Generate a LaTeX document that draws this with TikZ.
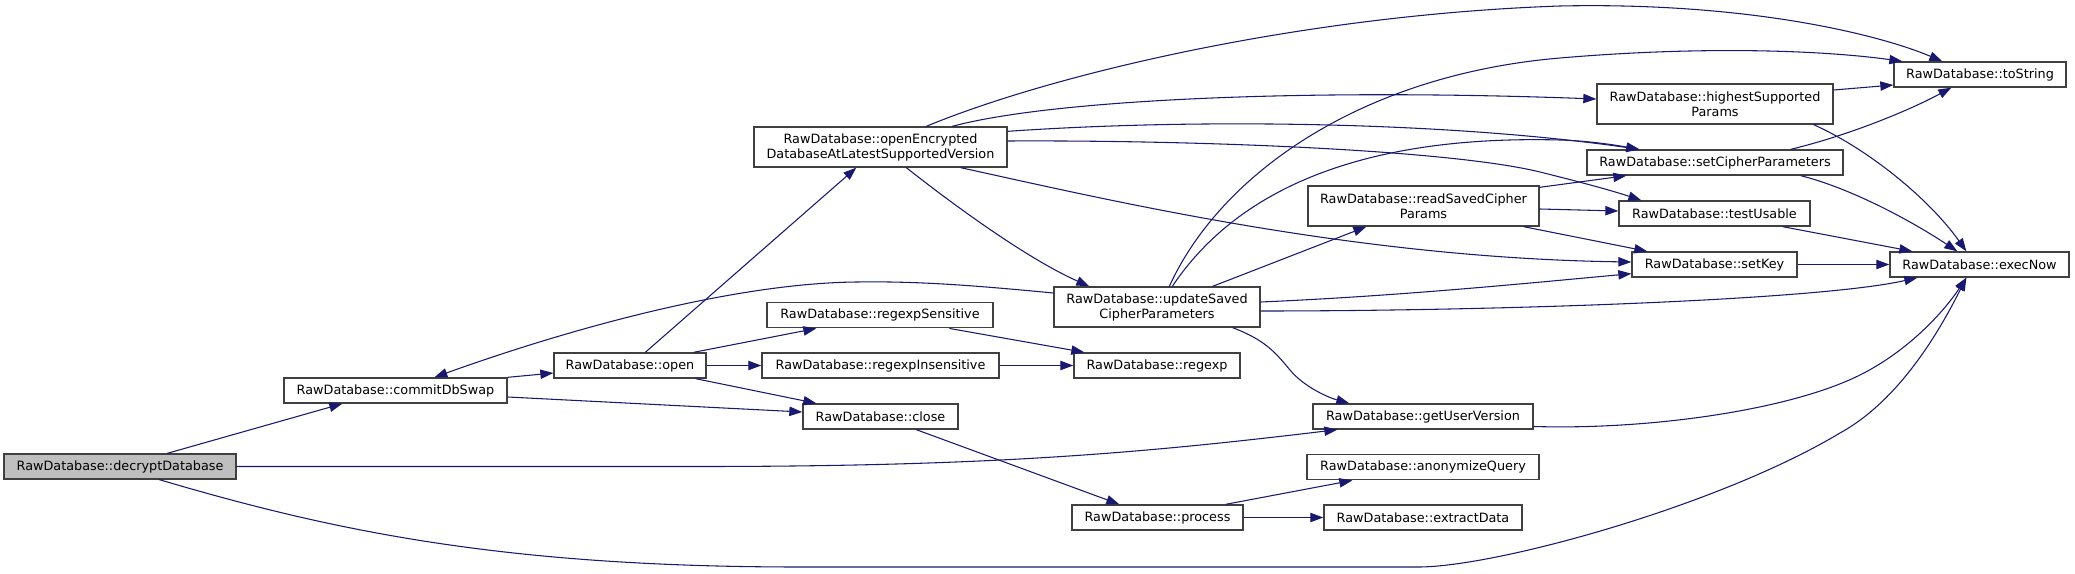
\documentclass[tikz,border=0pt]{standalone}
\usepackage{fontspec}
\setmainfont{DejaVu Sans}
\usetikzlibrary{arrows.meta,calc}
\definecolor{edgec}{HTML}{191970}
\definecolor{boxc}{HTML}{404040}
\definecolor{rootc}{HTML}{BFBFBF}
\begin{document}
\begin{tikzpicture}[x=0.75pt,y=-0.75pt,
  box/.style={draw=boxc, line width=1pt, fill=white, inner sep=0pt, align=center,
    font=\fontsize{9.6}{11.25}\selectfont},
  sz/.style 2 args={minimum width=#1*0.75pt, minimum height=#2*0.75pt},
  conn/.style={draw=edgec, line width=0.8pt, -{Triangle[length=9.75pt,width=7pt]}}]
\useasboundingbox (0,0) rectangle (2075,574);
\fill[white] (0,0) rectangle (2075,574);

% nodes
\node[box, sz={232}{25}, fill=rootc] (decrypt) at (120,466.5) {RawDatabase::decryptDatabase};
\node[box, sz={223}{25}] (commit) at (395.5,390.5) {RawDatabase::commitDbSwap};
\node[box, sz={253}{40}] (openEnc) at (880.5,147) {RawDatabase::openEncrypted\\DatabaseAtLatestSupportedVersion};
\node[box, sz={152}{25}] (open) at (630,365.5) {RawDatabase::open};
\node[box, sz={226}{25.5}] (rS) at (880,315) {RawDatabase::regexpSensitive};
\node[box, sz={237}{25}] (rI) at (880.5,365.5) {RawDatabase::regexpInsensitive};
\node[box, sz={155}{25}] (close) at (880.5,416.5) {RawDatabase::close};
\node[box, sz={206}{40}] (upd) at (1157,307) {RawDatabase::updateSaved\\CipherParameters};
\node[box, sz={166}{25}] (regexp) at (1157,365.5) {RawDatabase::regexp};
\node[box, sz={220}{25}] (getUser) at (1423,416.5) {RawDatabase::getUserVersion};
\node[box, sz={232}{25.5}] (anon) at (1423,467) {RawDatabase::anonymizeQuery};
\node[box, sz={171}{25}] (process) at (1157.5,517.5) {RawDatabase::process};
\node[box, sz={198}{25}] (extract) at (1423,517.5) {RawDatabase::extractData};
\node[box, sz={231}{40}] (readSaved) at (1423.5,206) {RawDatabase::readSavedCipher\\Params};
\node[box, sz={172}{25}] (toString) at (1980,74.5) {RawDatabase::toString};
\node[box, sz={236}{40}] (highest) at (1715,104) {RawDatabase::highestSupported\\Params};
\node[box, sz={256}{25}] (setCipher) at (1715,162.5) {RawDatabase::setCipherParameters};
\node[box, sz={191}{25}] (testUsable) at (1714.5,213.5) {RawDatabase::testUsable};
\node[box, sz={165}{25}] (setKey) at (1714.5,264.5) {RawDatabase::setKey};
\node[box, sz={179}{25}] (execNow) at (1979.5,264.5) {RawDatabase::execNow};

% edges
\draw[conn] ($(decrypt.north west)+(164,0)$) -- ($(commit.south west)+(59,0)$);
\draw[conn] (decrypt.east) -- (700,466.5) .. controls (1000,466.5) and (1150,452) .. ($(getUser.south west)+(25,0)$);
\draw[conn] ($(decrypt.south west)+(156,0)$) .. controls (330,530) and (500,567) .. (800,567) -- (1420,567)
   .. controls (1500,566) and (1720,505) .. (1840,433) .. controls (1900,400) and (1940,330) .. ($(execNow.south west)+(77,0)$);
\draw[conn] (commit.north east) -- ($(open.west)+(0,7.5)$);
\draw[conn] ($(commit.east)+(0,6.5)$) -- ($(close.west)+(0,-4.5)$);
\draw[conn] ($(upd.west)+(0,-14)$) .. controls (980,286) and (920,281) .. (857,282)
   .. controls (740,283) and (580,325) .. ($(commit.north west)+(151,0)$);
\draw[conn] ($(open.north west)+(92,0)$) -- ($(openEnc.south west)+(103,0)$);
\draw[conn] ($(open.north east)+(-13,0)$) -- ($(rS.south west)+(50,0)$);
\draw[conn] (open.east) -- (rI.west);
\draw[conn] ($(open.south east)+(-11,0)$) -- ($(close.north west)+(14,0)$);
\draw[conn] ($(openEnc.north west)+(173,0)$) .. controls (1050,75) and (1300,15) .. (1560,6)
   .. controls (1750,2) and (1880,35) .. ($(toString.north west)+(49,0)$);
\draw[conn] ($(openEnc.north west)+(199,0)$) .. controls (1050,100) and (1300,88) .. ($(highest.west)+(0,-5)$);
\draw[conn] ($(openEnc.north east)+(0,5)$) .. controls (1200,118) and (1450,122) .. ($(setCipher.north west)+(53,0)$);
\draw[conn] ($(openEnc.east)+(0,-6)$) .. controls (1200,140) and (1450,150) .. (1540,172)
   .. controls (1580,182) and (1610,190) .. ($(testUsable.north west)+(23,0)$);
\draw[conn] ($(openEnc.south east)+(-47,0)$) .. controls (1100,198) and (1350,258) .. ($(setKey.west)+(0,-2.5)$);
\draw[conn] ($(openEnc.south west)+(153,0)$) .. controls (960,210) and (1030,260) .. ($(upd.north west)+(36,0)$);
\draw[conn] ($(upd.north west)+(116,0)$) .. controls (1220,175) and (1360,75) .. (1560,58)
   .. controls (1700,46) and (1820,50) .. ($(toString.north west)+(9,0)$);
\draw[conn] ($(upd.north west)+(119,0)$) .. controls (1240,185) and (1370,135) .. (1560,140)
   .. controls (1590,141) and (1615,145) .. ($(setCipher.north west)+(53,0)$);
\draw[conn] ($(upd.north east)+(-48,0)$) -- ($(readSaved.south west)+(59,0)$);
\draw[conn] ($(upd.east)+(0,-5)$) .. controls (1400,296) and (1530,283) .. ($(setKey.south west)+(0,-4)$);
\draw[conn] ($(upd.east)+(0,4)$) .. controls (1500,311) and (1820,300) .. ($(execNow.south west)+(28,0)$);
\draw[conn] ($(upd.south east)+(-28,0)$) .. controls (1265,340) and (1275,352) .. (1290,370)
   .. controls (1305,388) and (1330,398) .. ($(getUser.north west)+(37,0)$);
\draw[conn] ($(rS.south west)+(183,0)$) -- ($(regexp.north west)+(11,0)$);
\draw[conn] (rI.east) -- (regexp.west);
\draw[conn] ($(close.south west)+(114,0)$) -- ($(process.north west)+(48,0)$);
\draw[conn] ($(process.north east)+(-18,0)$) -- ($(anon.south west)+(46,0)$);
\draw[conn] (process.east) -- (extract.west);
\draw[conn] ($(getUser.east)+(0,10)$) .. controls (1650,430) and (1790,410) .. (1860,375)
   .. controls (1910,350) and (1945,310) .. ($(execNow.south west)+(77,0)$);
\draw[conn] ($(readSaved.north east)+(0,2)$) -- ($(setCipher.south west)+(40,0)$);
\draw[conn] ($(readSaved.east)+(0,3)$) -- ($(testUsable.west)+(0,-2.5)$);
\draw[conn] ($(readSaved.south east)+(-16,0)$) -- ($(setKey.north west)+(16,0)$);
\draw[conn] ($(highest.east)+(0,-14)$) -- ($(toString.west)+(0,10.5)$);
\draw[conn] ($(highest.south east)+(-20,0)$) .. controls (1870,150) and (1930,200) .. ($(execNow.north west)+(77,0)$);
\draw[conn] ($(setCipher.north east)+(-53,0)$) .. controls (1850,135) and (1910,110) .. ($(toString.south west)+(58,0)$);
\draw[conn] ($(setCipher.south east)+(-43,0)$) .. controls (1850,188) and (1910,220) .. ($(execNow.north west)+(68,0)$);
\draw[conn] ($(testUsable.south east)+(-28,0)$) -- ($(execNow.north west)+(23,0)$);
\draw[conn] (setKey.east) -- (execNow.west);
\end{tikzpicture}
\end{document}
